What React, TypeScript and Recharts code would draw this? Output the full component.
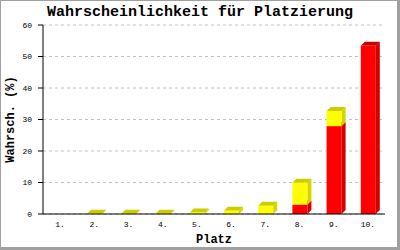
import React from "react";
import {
  BarChart,
  Bar,
  XAxis,
  YAxis,
  CartesianGrid,
} from "recharts";

// placements 1. – 10.
const places = ["1.", "2.", "3.", "4.", "5.", "6.", "7.", "8.", "9.", "10."];
// red (lower) and yellow (upper) share, in %
const redValues = [0, 0, 0, 0, 0, 0, 0, 2.95, 27.9, 53.4];
const yellowValues = [0, 0.1, 0.1, 0.1, 0.5, 1.05, 2.6, 6.95, 4.8, 0];
const yTicks = [0, 10, 20, 30, 40, 50, 60];

const data = places.map((p, i) => ({
  place: p,
  red: redValues[i],
  yellow: yellowValues[i],
}));

const DEPTH = 4;
const MONO = "'Liberation Mono', 'DejaVu Sans Mono', monospace";

// fake 3d bar: front face, right side, top face
function make3d(key: string, front: string, side: string, top: string) {
  return (props: any) => {
    const { x, y, width, height, payload } = props;
    if (!payload || !(payload[key] > 0)) return <g />;
    const d = DEPTH;
    const r = x + width;
    const b = y + height;
    return (
      <g>
        <polygon
          points={`${r},${y} ${r + d},${y - d} ${r + d},${b - d} ${r},${b}`}
          fill={side}
        />
        <polygon
          points={`${x},${y} ${x + d},${y - d} ${r + d},${y - d} ${r},${y}`}
          fill={top}
        />
        <rect x={x} y={y} width={width} height={Math.max(height, 0)} fill={front} />
      </g>
    );
  };
}

const XTick = ({ x, payload }: any) => (
  <text
    x={x}
    y={227}
    textAnchor="middle"
    fontFamily={MONO}
    fontSize={8}
    fill="#000"
  >
    {payload.value}
  </text>
);

export default function App() {
  return (
    <div
      style={{
        position: "relative",
        width: 400,
        height: 250,
        background: "#fff",
      }}
    >
      <style>{`body{margin:0}`}</style>
      <div
        style={{
          position: "absolute",
          top: 4,
          left: 0,
          width: 400,
          textAlign: "center",
          fontFamily: MONO,
          fontWeight: "bold",
          fontSize: 15,
          lineHeight: "18px",
        }}
      >
        Wahrscheinlichkeit für Platzierung
      </div>
      <BarChart
        width={400}
        height={250}
        data={data}
        margin={{ top: 25, right: 15, bottom: 0, left: 0 }}
        barCategoryGap={0}
      >
        <CartesianGrid
          horizontal
          vertical={false}
          stroke="#c0c0c0"
          strokeDasharray="3 3"
          yAxisId="l"
        />
        <XAxis
          dataKey="place"
          height={36}
          axisLine={{ stroke: "#000" }}
          tickLine={false}
          tick={<XTick />}
          interval={0}
          label={{
            value: "Platz",
            position: "insideBottom",
            offset: 7,
            style: {
              fontFamily: MONO,
              fontWeight: "bold",
              fontSize: 12,
              fill: "#000",
            },
          }}
        />
        <YAxis
          yAxisId="l"
          width={43}
          domain={[0, 60]}
          ticks={yTicks}
          interval={0}
          axisLine={{ stroke: "#000" }}
          tickLine={{ stroke: "#000" }}
          tickSize={5}
          tickMargin={6}
          tick={{ fontFamily: MONO, fontSize: 8, fill: "#000" }}
          label={{
            value: "Wahrsch. (%)",
            angle: -90,
            position: "insideLeft",
            offset: 10,
            style: {
              fontFamily: MONO,
              fontWeight: "bold",
              fontSize: 12,
              fill: "#000",
              textAnchor: "middle",
            },
          }}
        />
        <YAxis
          yAxisId="r"
          orientation="right"
          width={0}
          domain={[0, 60]}
          tick={false}
          tickLine={false}
          axisLine={{ stroke: "#000" }}
        />
        <Bar
          yAxisId="l"
          dataKey="red"
          stackId="a"
          barSize={15}
          isAnimationActive={false}
          shape={make3d("red", "#ff0000", "#d40000", "#c80000")}
        />
        <Bar
          yAxisId="l"
          dataKey="yellow"
          stackId="a"
          barSize={15}
          isAnimationActive={false}
          shape={make3d("yellow", "#ffff00", "#d4d400", "#cccc00")}
        />
      </BarChart>
      <div
        style={{
          position: "absolute",
          inset: 0,
          boxSizing: "border-box",
          borderLeft: "1px solid #a0a0a0",
          borderTop: "1px solid #a0a0a0",
          borderRight: "3px solid #a0a0a0",
          borderBottom: "3px solid #a0a0a0",
          pointerEvents: "none",
        }}
      />
    </div>
  );
}
